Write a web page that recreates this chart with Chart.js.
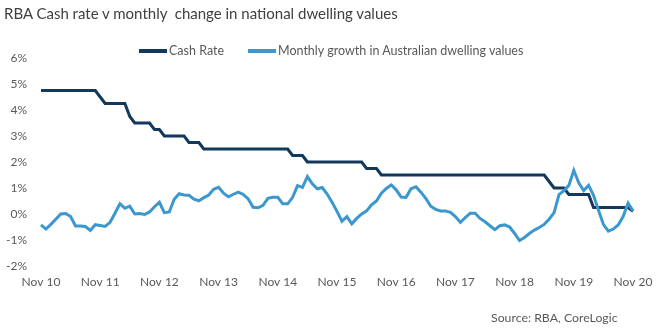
<!DOCTYPE html>
<html>
<head>
<meta charset="utf-8">
<script src="https://cdn.jsdelivr.net/npm/chart.js@4/dist/chart.umd.min.js"></script>
<style>
    body { margin: 0; background: #fff; font-family: Lato, "Open Sans", sans-serif; color: #595959; }
    #wrap { position: relative; width: 658px; height: 336px; overflow: hidden; }
    #chart { position: absolute; left: 0; top: 0; }
    .title { position: absolute; left: 4px; top: 4px; font-size: 15px; color: #404040; white-space: nowrap; }
    .legend-item { position: absolute; top: 43px; font-size: 12.5px; white-space: nowrap; line-height: 16px; }
    .legend-item .swatch { display: inline-block; width: 28px; height: 4px; vertical-align: middle; margin-right: 2px; position: relative; top: -1px; }
    .source { position: absolute; left: 491px; top: 310px; font-size: 12.3px; white-space: nowrap; }
</style>
</head>
<body>
<div id="wrap">
    <canvas id="chart" width="658" height="336"></canvas>
    <div class="title">RBA Cash rate v monthly &nbsp;change in national dwelling values</div>
    <div class="legend-item" style="left:139px"><span class="swatch" style="background:#12385B"></span>Cash Rate</div>
    <div class="legend-item" style="left:248px"><span class="swatch" style="background:#3C97CF"></span>Monthly growth in Australian dwelling values</div>
    <div class="source">Source: RBA, CoreLogic</div>
</div>
<script>
// Nov 2010 .. Nov 2020, one point per month
const tickLabels = ['Nov 10', 'Nov 11', 'Nov 12', 'Nov 13', 'Nov 14', 'Nov 15', 'Nov 16', 'Nov 17', 'Nov 18', 'Nov 19', 'Nov 20'];
const monthNames = ['Nov', 'Dec', 'Jan', 'Feb', 'Mar', 'Apr', 'May', 'Jun', 'Jul', 'Aug', 'Sep', 'Oct'];

const cashRate = [
    4.75, 4.75, 4.75, 4.75, 4.75, 4.75, 4.75, 4.75, 4.75, 4.75, 4.75, 4.75,
    4.5, 4.25, 4.25, 4.25, 4.25, 4.25, 3.75, 3.5, 3.5, 3.5, 3.5, 3.25,
    3.25, 3.0, 3.0, 3.0, 3.0, 3.0, 2.75, 2.75, 2.75, 2.5, 2.5, 2.5,
    2.5, 2.5, 2.5, 2.5, 2.5, 2.5, 2.5, 2.5, 2.5, 2.5, 2.5, 2.5,
    2.5, 2.5, 2.5, 2.25, 2.25, 2.25, 2.0, 2.0, 2.0, 2.0, 2.0, 2.0,
    2.0, 2.0, 2.0, 2.0, 2.0, 2.0, 1.75, 1.75, 1.75, 1.5, 1.5, 1.5,
    1.5, 1.5, 1.5, 1.5, 1.5, 1.5, 1.5, 1.5, 1.5, 1.5, 1.5, 1.5,
    1.5, 1.5, 1.5, 1.5, 1.5, 1.5, 1.5, 1.5, 1.5, 1.5, 1.5, 1.5,
    1.5, 1.5, 1.5, 1.5, 1.5, 1.5, 1.5, 1.25, 1.0, 1.0, 1.0, 0.75,
    0.75, 0.75, 0.75, 0.75, 0.25, 0.25, 0.25, 0.25, 0.25, 0.25, 0.25, 0.25,
    0.1
];

const dwellingGrowth = [
    -0.42, -0.58, -0.4, -0.2, 0.0, 0.02, -0.1, -0.46, -0.46, -0.48, -0.63, -0.41,
    -0.44, -0.48, -0.32, 0.03, 0.4, 0.22, 0.3, 0.0, 0.02, -0.02, 0.08, 0.28,
    0.45, 0.05, 0.08, 0.57, 0.78, 0.73, 0.72, 0.57, 0.51, 0.63, 0.73, 0.95,
    1.03, 0.8, 0.66, 0.76, 0.84, 0.75, 0.58, 0.26, 0.24, 0.33, 0.6, 0.64,
    0.64, 0.39, 0.39, 0.64, 1.09, 1.02, 1.44, 1.16, 0.97, 1.02, 0.77, 0.45,
    0.1, -0.28, -0.1, -0.38, -0.17, 0.0, 0.12, 0.35, 0.5, 0.8, 0.98, 1.12,
    0.93, 0.65, 0.64, 0.97, 1.05, 0.84, 0.6, 0.3, 0.18, 0.12, 0.12, 0.06,
    -0.1, -0.32, -0.14, 0.03, 0.03, -0.17, -0.3, -0.45, -0.6, -0.45, -0.42, -0.5,
    -0.75, -1.02, -0.9, -0.75, -0.62, -0.52, -0.4, -0.2, 0.05, 0.75, 0.9, 1.1,
    1.68, 1.2, 0.9, 1.1, 0.72, 0.15, -0.4, -0.66, -0.58, -0.42, -0.1, 0.42,
    0.12
];

// category labels, e.g. "Nov 10", "Dec 10", "Jan 11" ...
const months = cashRate.map((_, i) => {
    const yr = 10 + Math.floor((i + 10) / 12);
    return monthNames[i % 12] + ' ' + yr;
});

const textColor = '#595959';
const tickFont = { family: 'Lato, "Open Sans", sans-serif', size: 12 };

new Chart(document.getElementById('chart'), {
    type: 'line',
    data: {
        labels: months,
        datasets: [
            {
                label: 'Monthly growth in Australian dwelling values',
                data: dwellingGrowth,
                borderColor: '#3C97CF',
                backgroundColor: '#3C97CF',
                borderWidth: 3,
                pointRadius: 0,
                tension: 0,
                fill: false
            },
            {
                label: 'Cash Rate',
                data: cashRate,
                borderColor: '#12385B',
                backgroundColor: '#12385B',
                borderWidth: 3,
                pointRadius: 0,
                tension: 0,
                fill: false
            }
        ]
    },
    options: {
        responsive: false,
        animation: false,
        layout: { padding: { top: 58, right: 25, bottom: 0, left: 0 } },
        plugins: {
            legend: { display: false }, // legend is in the HTML
            tooltip: { enabled: false }
        },
        scales: {
            x: {
                offset: false,
                grid: { display: false },
                border: { display: false },
                ticks: {
                    autoSkip: false,
                    maxRotation: 0,
                    padding: 1,
                    color: textColor,
                    font: tickFont,
                    callback: (v, i) => i % 12 === 0 ? tickLabels[i / 12] : ''
                },
                afterFit: (scale) => { scale.height = 70; }
            },
            y: {
                min: -2,
                max: 6,
                grid: { display: false },
                border: { display: false },
                ticks: {
                    stepSize: 1,
                    padding: 6,
                    color: textColor,
                    font: tickFont,
                    callback: (v) => v + '%'
                },
                afterFit: (scale) => { scale.width = 41; }
            }
        }
    }
});
</script>
</body>
</html>
